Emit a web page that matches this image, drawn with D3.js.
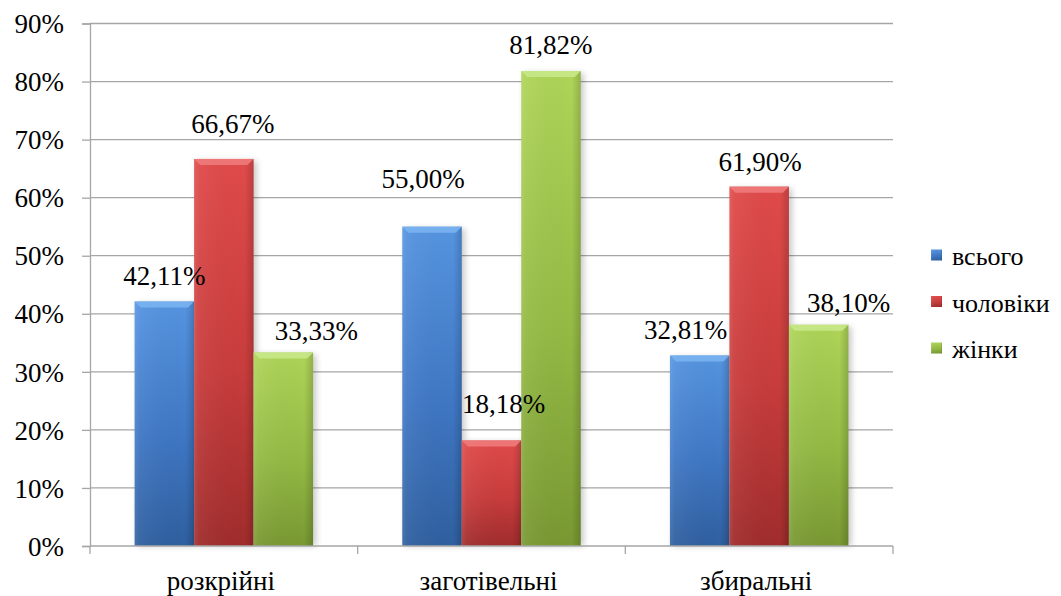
<!DOCTYPE html>
<html>
<head>
<meta charset="utf-8">
<script src="https://cdn.jsdelivr.net/npm/d3@7"></script>
<style>
  svg text { font-family: "Liberation Serif", Tinos, "Times New Roman", serif !important; }
</style>
</head>
<body style="margin:0">
<svg id="chart" width="1061" height="596"></svg>
<script>
// Categories and series
const categories = ["розкрійні", "заготівельні", "збиральні"];
const seriesNames = ["всього", "чоловіки", "жінки"];
// Percent values, one array per series (in category order)
const vsogo    = [42.11, 55.00, 32.81];
const cholovik = [66.67, 18.18, 61.90];
const zhinky   = [33.33, 81.82, 38.10];
const seriesValues = [vsogo, cholovik, zhinky];
const yTicks = [0, 10, 20, 30, 40, 50, 60, 70, 80, 90];

// Label placement tweaks (dx, dy from bar centre / top), per series then category
const labelShift = [
  [[0, -17], [-9, -39], [-14, -17]],
  [[9, -26], [12, -27], [1, -16]],
  [[33, -13], [0, -17], [30, -13]]
];

const palette = [
  { light: "#5594e0", mid: "#3f77c4", dark: "#2f5f9f", bevel: "#7ab2f0" },
  { light: "#e04a4a", mid: "#c83c3c", dark: "#a02c2c", bevel: "#ee7a7a" },
  { light: "#aed458", mid: "#94ba44", dark: "#789832", bevel: "#c8e888" }
];

const svg = d3.select("#chart");
const plotL = 90, plotR = 893, plotT = 23.5, plotB = 546;

// Serif text helper
function serif(sel, size) {
  return sel.style("font-family", '"Liberation Serif", Tinos, "Times New Roman", serif', "important")
    .attr("font-size", size).attr("fill", "#000");
}

const x0 = d3.scaleBand().domain(categories).range([plotL, plotR]).padding(0);
const bw = x0.bandwidth();
const barW = bw / 4.5;
const x1 = d3.scaleBand().domain(seriesNames)
  .range([barW * 0.75, bw - barW * 0.75]).padding(0);
const y = d3.scaleLinear().domain([0, 90]).range([plotB, plotT]);

const defs = svg.append("defs");
palette.forEach((c, i) => {
  const g = defs.append("linearGradient").attr("id", "body" + i)
    .attr("x1", 0).attr("y1", 0).attr("x2", 0).attr("y2", 1);
  g.append("stop").attr("offset", "0%").attr("stop-color", c.light);
  g.append("stop").attr("offset", "55%").attr("stop-color", c.mid);
  g.append("stop").attr("offset", "100%").attr("stop-color", c.dark);
});
const side = defs.append("linearGradient").attr("id", "side")
  .attr("x1", 0).attr("y1", 0).attr("x2", 1).attr("y2", 0);
side.append("stop").attr("offset", "0%").attr("stop-color", "#fff").attr("stop-opacity", 0.12);
side.append("stop").attr("offset", "8%").attr("stop-color", "#fff").attr("stop-opacity", 0.05);
side.append("stop").attr("offset", "85%").attr("stop-color", "#000").attr("stop-opacity", 0.0);
side.append("stop").attr("offset", "100%").attr("stop-color", "#000").attr("stop-opacity", 0.16);
const blur = defs.append("filter").attr("id", "shadow")
  .attr("x", "-20%").attr("y", "-5%").attr("width", "140%").attr("height", "110%");
blur.append("feGaussianBlur").attr("stdDeviation", 3);

// Gridlines
svg.append("g").selectAll("line").data(yTicks.filter(d => d > 0)).join("line")
  .attr("x1", plotL).attr("x2", plotR)
  .attr("y1", d => y(d)).attr("y2", d => y(d))
  .attr("stroke", "#a6a6a6").attr("stroke-width", 1.3);

// Y axis
const yAxis = svg.append("g").attr("transform", `translate(${plotL},0)`)
  .call(d3.axisLeft(y).tickValues(yTicks).tickSize(8).tickPadding(18)
    .tickFormat(d => d + "%"));
yAxis.attr("font-family", null);
yAxis.select(".domain").attr("stroke", "#a6a6a6").attr("stroke-width", 1.3);
yAxis.selectAll(".tick line").attr("stroke", "#a6a6a6").attr("stroke-width", 1.3);
serif(yAxis.selectAll(".tick text"), 27).attr("dy", "0.34em");

// Bars
const groups = svg.append("g").selectAll("g").data(categories).join("g")
  .attr("transform", d => `translate(${x0(d)},0)`);

const items = groups.selectAll("g.bar").data((c, ci) => seriesNames.map((s, si) => ({
  s, si, ci, v: seriesValues[si][ci]
}))).join("g").attr("class", "bar");

items.append("rect")
  .attr("x", d => x1(d.s) + 3).attr("y", d => y(d.v) + 2)
  .attr("width", barW).attr("height", d => plotB - y(d.v) - 2)
  .attr("fill", "#000").attr("opacity", 0.22).attr("filter", "url(#shadow)");

items.append("rect")
  .attr("x", d => x1(d.s)).attr("y", d => y(d.v))
  .attr("width", barW).attr("height", d => plotB - y(d.v))
  .attr("fill", d => `url(#body${d.si})`);
items.append("rect")
  .attr("x", d => x1(d.s)).attr("y", d => y(d.v))
  .attr("width", barW).attr("height", d => plotB - y(d.v))
  .attr("fill", "url(#side)");
// top bevel
items.append("path")
  .attr("d", d => {
    const xa = x1(d.s), xb = xa + barW, t = y(d.v), b = 6;
    return `M${xa},${t}L${xb},${t}L${xb - b},${t + b}L${xa + b},${t + b}Z`;
  })
  .attr("fill", d => palette[d.si].bevel).attr("opacity", 0.9);

// Value labels, drawn above all bars
const labelData = [];
categories.forEach((c, ci) => seriesNames.forEach((s, si) =>
  labelData.push({ c, s, si, ci, v: seriesValues[si][ci] })));
serif(svg.append("g").selectAll("text").data(labelData).join("text"), 27)
  .attr("x", d => x0(d.c) + x1(d.s) + barW / 2 + labelShift[d.si][d.ci][0])
  .attr("y", d => y(d.v) + labelShift[d.si][d.ci][1])
  .attr("text-anchor", "middle")
  .text(d => d.v.toFixed(2).replace(".", ",") + "%");

// X axis
svg.append("line").attr("x1", plotL).attr("x2", plotR)
  .attr("y1", plotB).attr("y2", plotB)
  .attr("stroke", "#a6a6a6").attr("stroke-width", 1.3);
const bounds = categories.map(c => x0(c)).concat([plotR]);
svg.append("g").selectAll("line").data(bounds).join("line")
  .attr("x1", d => d).attr("x2", d => d).attr("y1", plotB).attr("y2", plotB + 8)
  .attr("stroke", "#a6a6a6").attr("stroke-width", 1.3);
serif(svg.append("g").selectAll("text").data(categories).join("text"), 27)
  .attr("x", d => x0(d) + bw / 2 - 3).attr("y", 590)
  .attr("text-anchor", "middle")
  .text(d => d);

// Legend
const legend = svg.append("g").selectAll("g").data(seriesNames).join("g")
  .attr("transform", (d, i) => `translate(931,${255 + i * 46.5})`);
legend.append("rect").attr("x", 0).attr("y", -5.5).attr("width", 11).attr("height", 11)
  .attr("fill", (d, i) => `url(#body${i})`);
legend.append("rect").attr("x", 0).attr("y", -5.5).attr("width", 11).attr("height", 11)
  .attr("fill", "url(#side)");
serif(legend.append("text"), 26).attr("x", 21).attr("y", 10)
  .text(d => d);
</script>
</body>
</html>
